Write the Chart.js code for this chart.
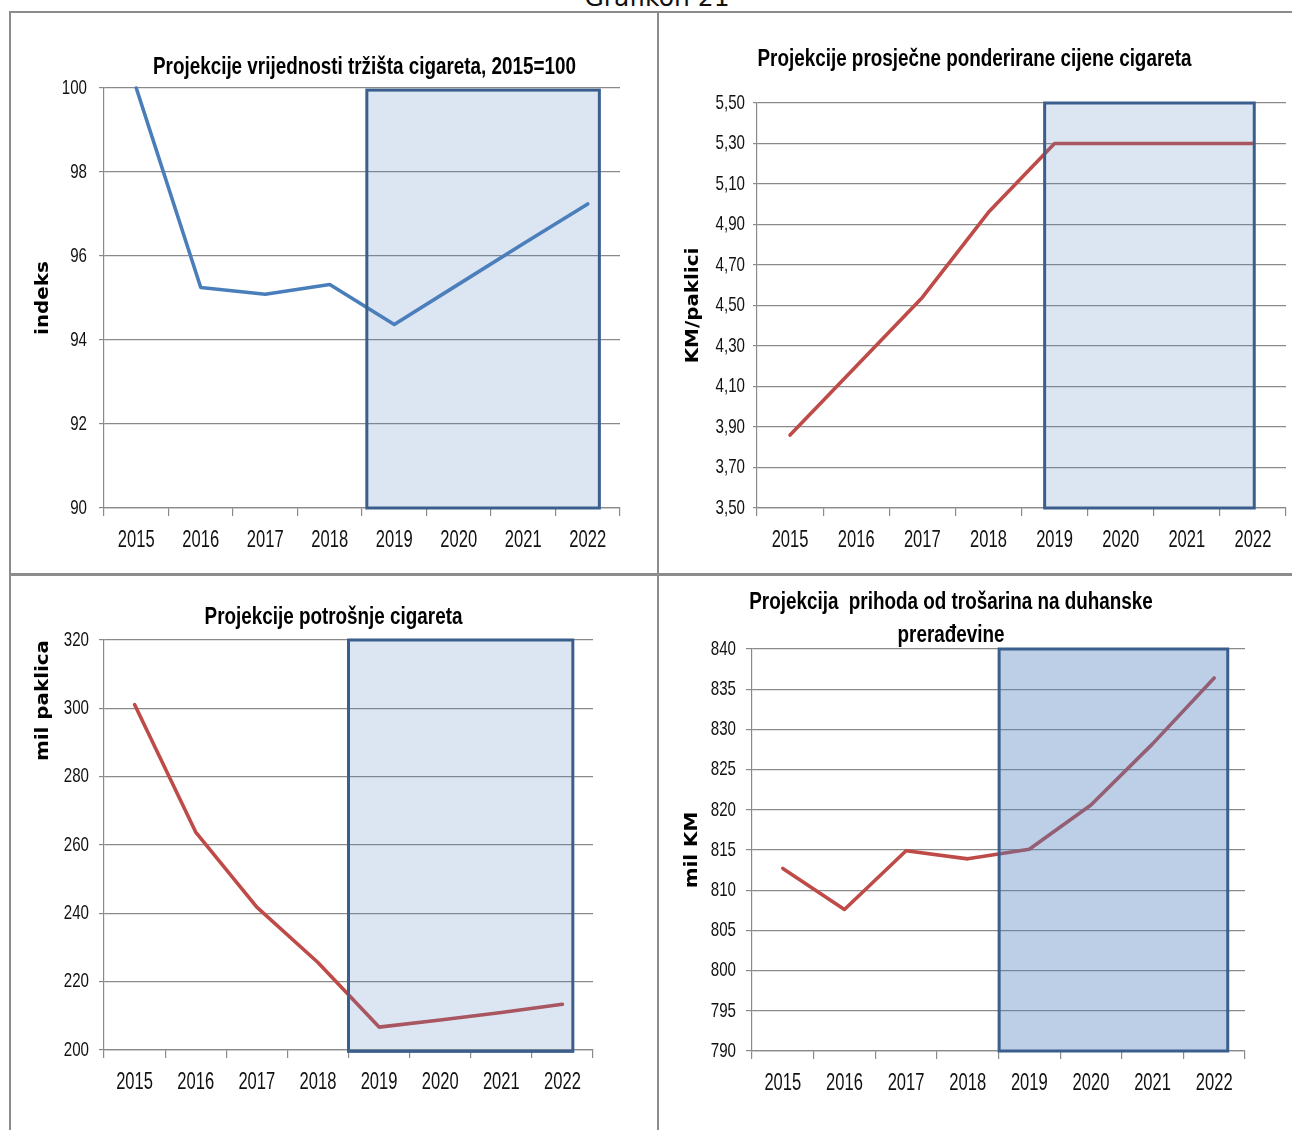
<!DOCTYPE html>
<html><head><meta charset="utf-8">
<script src="https://cdn.jsdelivr.net/npm/chart.js@4.4.0/dist/chart.umd.min.js"></script>
<style>
html,body{margin:0;padding:0;background:#fff;}
body{width:1292px;height:1130px;position:relative;overflow:hidden;}
.frame{position:absolute;background:#8c8c8c;}
canvas{position:absolute;}
#hdr{position:absolute;left:0;width:1314px;text-align:center;top:-15px;font:25px/25px 'DejaVu Sans',sans-serif;color:#111;white-space:nowrap;}
</style></head><body>
<div id="hdr">Grafikon 21</div>
<div class="frame" style="left:9px;top:11px;width:2px;height:1119px"></div>
<div class="frame" style="left:9px;top:11px;width:1283px;height:2px"></div>
<div class="frame" style="left:657px;top:11px;width:2px;height:1119px"></div>
<div class="frame" style="left:9px;top:573px;width:1283px;height:3px"></div>
<canvas id="c1" width="645" height="558" style="left:12px;top:14px;width:645px;height:558px"></canvas>
<canvas id="c2" width="632" height="558" style="left:660px;top:14px;width:632px;height:558px"></canvas>
<canvas id="c3" width="645" height="554" style="left:12px;top:576px;width:645px;height:554px"></canvas>
<canvas id="c4" width="632" height="554" style="left:660px;top:576px;width:632px;height:554px"></canvas>
<script>
// ---- data ----
const years = ['2015', '2016', '2017', '2018', '2019', '2020', '2021', '2022'];
const marketValueIndex = [100, 95.25, 95.09, 95.32, 94.37, 95.33, 96.29, 97.24];
const avgWeightedPrice = [3.86, 4.20, 4.54, 4.96, 5.30, 5.30, 5.30, 5.30];
const consumption = [301.1, 263.8, 241.8, 225.6, 206.7, 208.8, 211.0, 213.4];
const exciseRevenue = [812.7, 807.6, 814.9, 813.9, 815.1, 820.6, 828.2, 836.4];
const ticksIndex = [90, 92, 94, 96, 98, 100];
const ticksPrice = [3.5, 3.7, 3.9, 4.1, 4.3, 4.5, 4.7, 4.9, 5.1, 5.3, 5.5];
const ticksConsumption = [200, 220, 240, 260, 280, 300, 320];
const ticksRevenue = [790, 795, 800, 805, 810, 815, 820, 825, 830, 835, 840];
// projection period shaded boxes: [from index, to index, top value, bottom value]
const boxIndex = [3.575, 7.18, 99.95, 90];
const boxPrice = [3.85, 7.02, 5.5, 3.5];
const boxConsumption = [3.5, 7.17, 320, 199.6];
const boxRevenue = [3.51, 7.22, 840, 790];

const SANS = "'Liberation Sans', Arial, sans-serif";
const GRID = '#8a8a8a';
const BLUE = '#4a7ebb';
const RED = '#be4b48';

// narrow-looking text: condense horizontal text, stretch rotated axis titles
function condense(ctx) {
  const orig = ctx.fillText.bind(ctx);
  ctx.fillText = function (text, x, y, maxWidth) {
    const m = ctx.getTransform();
    const rotated = Math.abs(m.b) > 1e-6;
    const s = rotated ? 1.17 : (/bold/.test(ctx.font) ? 0.82 : 0.72);
    ctx.save();
    ctx.translate(x, y);
    ctx.scale(s, 1);
    if (maxWidth !== undefined && maxWidth !== null) orig(text, 0, 0, maxWidth / s);
    else orig(text, 0, 0);
    ctx.restore();
  };
}

const projectionBox = {
  id: 'projectionBox',
  afterDatasetsDraw(chart, args, o) {
    const {ctx, scales: {x, y}} = chart;
    const x0 = x.getPixelForValue(o.range[0]), x1 = x.getPixelForValue(o.range[1]);
    const y0 = y.getPixelForValue(o.range[2]), y1 = y.getPixelForValue(o.range[3]);
    ctx.save();
    ctx.fillStyle = o.fill;
    ctx.fillRect(x0, y0, x1 - x0, y1 - y0);
    ctx.strokeStyle = o.border;
    ctx.lineWidth = o.borderWidth;
    ctx.strokeRect(x0, y0, x1 - x0, y1 - y0);
    ctx.restore();
  }
};
const panelTitle = {
  id: 'panelTitle',
  afterDraw(chart, args, o) {
    const ctx = chart.ctx;
    ctx.save();
    ctx.font = 'bold 23px ' + SANS;
    ctx.fillStyle = '#000';
    ctx.textAlign = 'center';
    ctx.textBaseline = 'alphabetic';
    o.lines.forEach((t, i) => ctx.fillText(t, o.x, o.y + i * (o.gap || 0)));
    ctx.restore();
  }
};

function makeChart(id, cfg) {
  const canvas = document.getElementById(id);
  condense(canvas.getContext('2d'));
  return new Chart(canvas, {
    type: 'line',
    data: {
      labels: years,
      datasets: [{
        data: cfg.values,
        borderColor: cfg.color,
        borderWidth: 3.6,
        pointRadius: 0,
        tension: 0,
        borderJoinStyle: 'round',
        borderCapStyle: 'round',
        clip: 6
      }]
    },
    plugins: [projectionBox, panelTitle],
    options: {
      responsive: false,
      animation: false,
      devicePixelRatio: 1,
      layout: {padding: cfg.padding},
      plugins: {
        legend: {display: false},
        tooltip: {enabled: false},
        title: {display: false},
        projectionBox: cfg.box,
        panelTitle: cfg.title
      },
      scales: {
        x: {
          type: 'category',
          offset: true,
          grid: {offset: true, drawOnChartArea: false, drawTicks: true, tickLength: 8, color: GRID, lineWidth: 1.2},
          border: {display: true, color: GRID, width: 1.2},
          ticks: {font: {family: SANS, size: 23}, color: '#111', padding: 11, maxRotation: 0, autoSkip: false},
          afterFit(s) { s.height = 50; }
        },
        y: {
          min: cfg.min, max: cfg.max,
          afterBuildTicks(s) { s.ticks = cfg.ticks.map(v => ({value: v})); },
          grid: {color: GRID, lineWidth: 1.2, drawTicks: true, tickLength: cfg.tickLen},
          border: {display: true, color: GRID, width: 1.2},
          ticks: {font: {family: SANS, size: 21}, color: '#111', padding: cfg.tickPad,
                  callback: cfg.fmt},
          title: {display: true, text: cfg.axisTitle, align: cfg.titleAlign || 'center',
                  font: {family: "'DejaVu Sans', sans-serif", weight: 'bold', size: 17},
                  color: '#000', padding: {top: cfg.titlePad, bottom: 0}},
          afterFit(s) { s.width = cfg.yWidth; }
        }
      }
    }
  });
}

const intFmt = v => String(v);
const decFmt = v => v.toFixed(2).replace('.', ',');

makeChart('c1', {
  values: marketValueIndex, color: BLUE, min: 90, max: 100, ticks: ticksIndex, fmt: intFmt,
  padding: {left: 0, right: 37, top: 74, bottom: 14}, yWidth: 92, tickLen: 5, tickPad: 12,
  axisTitle: 'indeks', titlePad: 21,
  box: {range: boxIndex, fill: 'rgba(79,129,189,0.2)', border: '#3a5f8c', borderWidth: 3},
  title: {lines: ['Projekcije vrijednosti tržišta cigareta, 2015=100'], x: 352.5, y: 59.5}
});
makeChart('c2', {
  values: avgWeightedPrice, color: RED, min: 3.5, max: 5.5, ticks: ticksPrice, fmt: decFmt,
  padding: {left: 0, right: 6, top: 89, bottom: 14}, yWidth: 97, tickLen: 4, tickPad: 8,
  axisTitle: 'KM/paklici', titlePad: 23,
  box: {range: boxPrice, fill: 'rgba(79,129,189,0.2)', border: '#3a5f8c', borderWidth: 3},
  title: {lines: ['Projekcije prosječne ponderirane cijene cigareta'], x: 314.5, y: 52}
});
makeChart('c3', {
  values: consumption, color: RED, min: 200, max: 320, ticks: ticksConsumption, fmt: intFmt,
  padding: {left: 0, right: 64, top: 64, bottom: 30}, yWidth: 92, tickLen: 5, tickPad: 10,
  axisTitle: 'mil paklica', titlePad: 21, titleAlign: 'end',
  box: {range: boxConsumption, fill: 'rgba(79,129,189,0.2)', border: '#3a5f8c', borderWidth: 3},
  title: {lines: ['Projekcije potrošnje cigareta'], x: 321.5, y: 48}
});
makeChart('c4', {
  values: exciseRevenue, color: RED, min: 790, max: 840, ticks: ticksRevenue, fmt: intFmt,
  padding: {left: 0, right: 47, top: 73, bottom: 29}, yWidth: 92, tickLen: 6, tickPad: 10,
  axisTitle: 'mil KM', titlePad: 22,
  box: {range: boxRevenue, fill: 'rgba(79,129,189,0.38)', border: '#3a5f8c', borderWidth: 3},
  title: {lines: ['Projekcija  prihoda od trošarina na duhanske', 'prerađevine'], x: 291, y: 33, gap: 33}
});
</script>
</body></html>
